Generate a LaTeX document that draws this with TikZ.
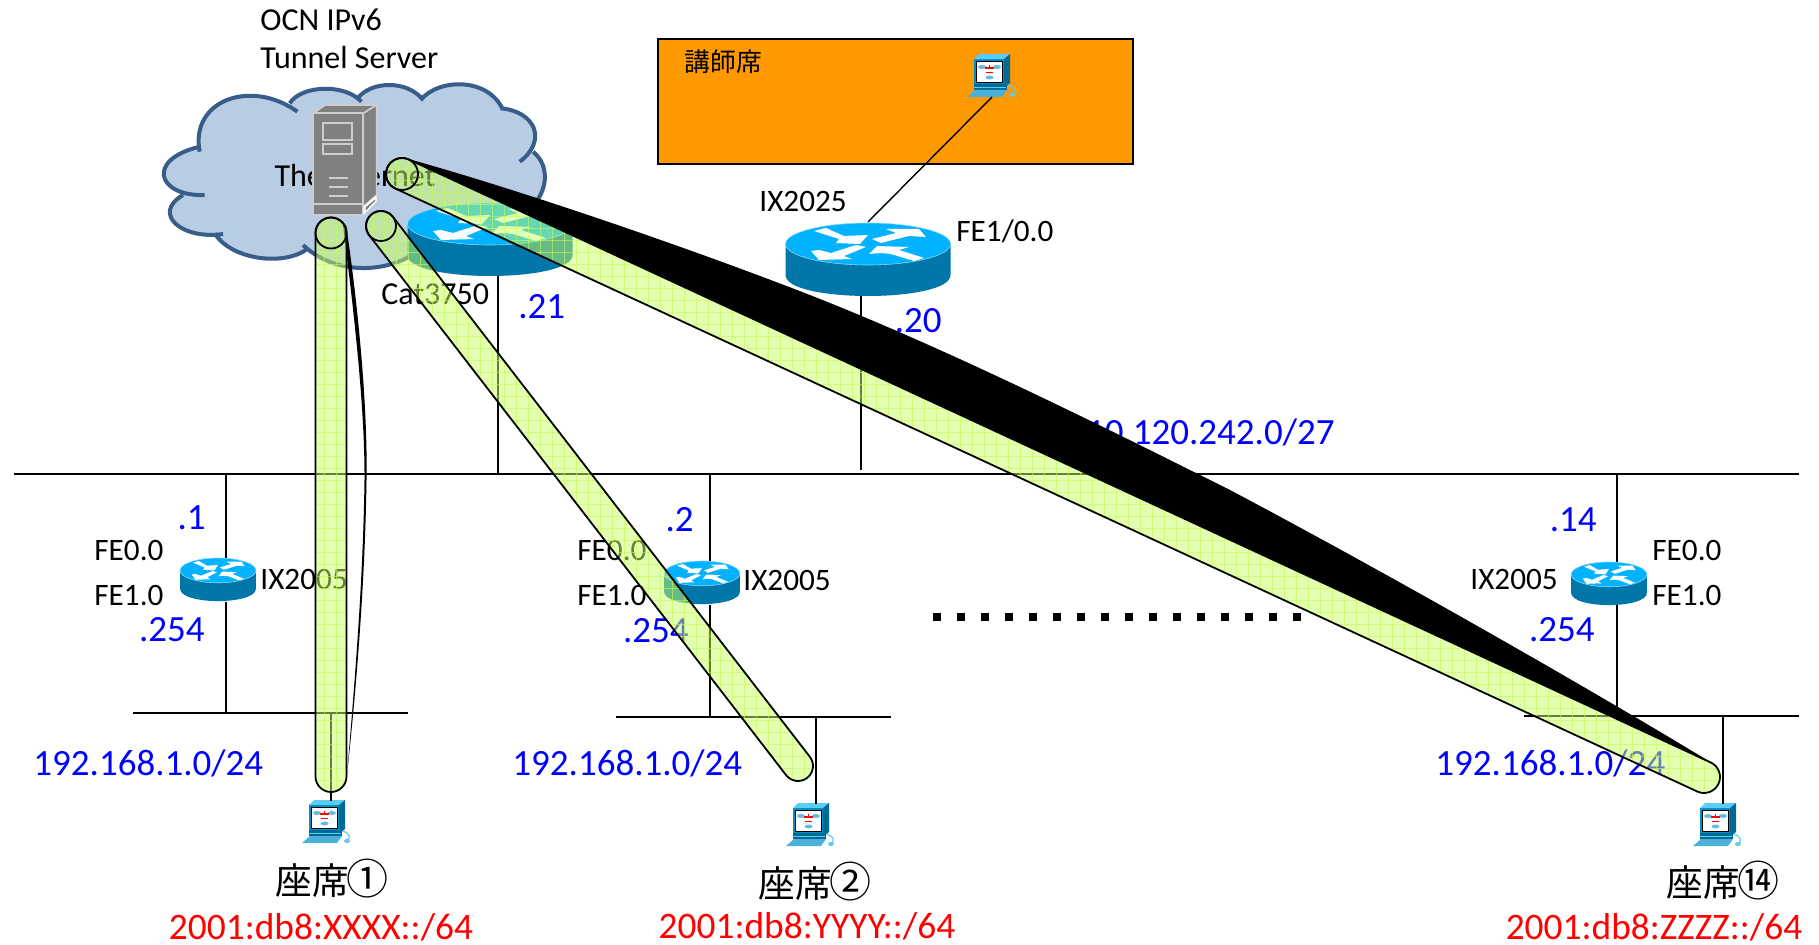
\documentclass[tikz,border=0pt]{standalone}
\usepackage{fontspec}
\setmainfont{Carlito}
\newfontfamily\cjk{Noto Sans CJK JP}
\usetikzlibrary{calc}
\definecolor{cloudfill}{RGB}{184,204,228}
\definecolor{cloudline}{RGB}{56,93,138}
\definecolor{rtop}{RGB}{0,178,255}
\definecolor{rbody}{RGB}{0,119,168}
\definecolor{redge}{RGB}{140,215,245}
\definecolor{boxfill}{RGB}{255,153,0}
\definecolor{tubefill}{RGB}{200,255,100}
\definecolor{tubegrid}{RGB}{200,250,90}
\definecolor{srv}{RGB}{128,128,128}
\definecolor{srvl}{RGB}{205,205,205}
\definecolor{pcblue}{RGB}{0,144,200}
\definecolor{pcdark}{RGB}{0,105,150}
\definecolor{pclight}{RGB}{90,205,245}
\tikzset{
  x=0.5pt,y=-0.5pt,
  lbl/.style={inner sep=0pt,font=\fontsize{15.6}{15.6}\selectfont,text=black},
  lblbig/.style={inner sep=0pt,font=\fontsize{16}{16}\selectfont,text=black},
  ip/.style={inner sep=0pt,font=\fontsize{18.5}{18.5}\selectfont,text=blue},
  seat/.style={inner sep=0pt,font=\cjk\fontsize{18.35}{18.35}\selectfont,text=black},
  pfx/.style={inner sep=0pt,font=\fontsize{18.7}{18.7}\selectfont,text=red},
  wire/.style={draw=black,line width=0.7pt},
  lan/.style={draw=black,line width=1.15pt},
  tubeedge/.style={draw=black,line width=0.9pt},
}
% router icon: name, centre of top ellipse, x scale, y scale
\newcommand\routericon[5]{%
  \coordinate (#1) at (#2,#3);
  \begin{scope}[shift={(#2,#3)},xscale=#4,yscale=#5]
    \fill[rbody] (-82.5,0) -- (-82.5,31) .. controls (-82.5,59) and (82.5,59) .. (82.5,31) -- (82.5,0) -- cycle;
    \fill[rtop,draw=redge,line width=0.3pt] (0,0) ellipse [x radius=82.5,y radius=21];
    \fill[white] (-54,-13) -- (-42,-16) -- (-24,-8) -- (0,-9) -- (-8,0) -- (-32,-1) -- (-29,-5) -- cycle;
    \fill[white] (4,-5) -- (13,-1) -- (41,-8) -- (58,-7) -- (51,-15) -- (18,-15) -- (28,-11) -- cycle;
    \fill[white] (-57,7) -- (-49,16) -- (-16,15) -- (-24,12) -- (-2,3) -- (-12,1) -- (-37,9) -- (-49,6) -- cycle;
    \fill[white] (1,10) -- (9,2) -- (41,3) -- (31,6) -- (56,14) -- (46,17) -- (23,10) -- (13,9) -- cycle;
  \end{scope}}
% PC icon: name, top-left corner
\newcommand\pcicon[3]{%
  \coordinate (#1) at (#2,#3);
  \begin{scope}[shift={(#2,#3)}]
    \fill[pclight] (7,5) -- (12,0) -- (43,0) -- (37,5) -- cycle;
    \fill[pcdark] (37,5) -- (43,0) -- (43,29) -- (37,34) -- cycle;
    \fill[pcblue] (7,5) rectangle (37,33);
    \fill[black] (9,7) rectangle (36,29);
    \fill[white] (10,8) rectangle (35,28);
    \fill[pcdark] (7,30) rectangle (40,36);
    \fill[pclight] (7,33) rectangle (39,34);
    \fill[pcblue!70!white] (0,43) -- (8,36) -- (40,36) -- (35,43) -- cycle;
    \fill[pcblue!60!white] (15,13) ellipse [x radius=4,y radius=2];
    \fill[pcblue!60!white] (30,13) ellipse [x radius=4,y radius=2];
    \fill[pcblue!60!white] (22.5,23.5) ellipse [x radius=4,y radius=2];
    \draw[red,line width=0.7pt] (19,18.5) -- (26,18.5) (22.5,11) -- (22.5,14) (18,14) -- (27,14);
    \draw[pclight,line width=0.6pt] (41,31) .. controls (47,33) and (49,37) .. (46,40);
    \fill[pclight] (45,41) ellipse [x radius=3,y radius=2];
  \end{scope}}
% tube geometry
\newcommand\tubegeom[3]{%
  \coordinate (#1L) at ($(#1)!#3!90:(#2)$);
  \coordinate (#1R) at ($(#1)!#3!-90:(#2)$);
  \coordinate (#2L) at ($(#2)!#3!-90:(#1)$);
  \coordinate (#2R) at ($(#2)!#3!90:(#1)$);
  \coordinate (#1T) at ($(#1)!-#3!(#2)$);
  \coordinate (#2T) at ($(#2)!-#3!(#1)$);}
\newcommand\tubepath[2]{(#1L) -- (#2L)
  .. controls ($(#2L)+.55*(#2T)-.55*(#2)$) and ($(#2T)+.55*(#2L)-.55*(#2)$) .. (#2T)
  .. controls ($(#2T)+.55*(#2R)-.55*(#2)$) and ($(#2R)+.55*(#2T)-.55*(#2)$) .. (#2R)
  -- (#1R)
  .. controls ($(#1R)+.55*(#1T)-.55*(#1)$) and ($(#1T)+.55*(#1R)-.55*(#1)$) .. (#1T)
  .. controls ($(#1T)+.55*(#1L)-.55*(#1)$) and ($(#1L)+.55*(#1T)-.55*(#1)$) .. (#1L) -- cycle}
\newcommand\tubedraw[3]{%
  \tubegeom{#1}{#2}{#3}
  \fill[tubefill,fill opacity=.5] \tubepath{#1}{#2};
  \begin{scope}
    \clip \tubepath{#1}{#2};
    \foreach \gx in {0,12,...,1824} \draw[tubegrid,line width=0.25pt,draw opacity=.6] (\gx,0) -- (\gx,945);
    \foreach \gy in {0,12,...,948} \draw[tubegrid,line width=0.25pt,draw opacity=.6] (0,\gy) -- (1819,\gy);
  \end{scope}
  \draw[tubeedge] \tubepath{#1}{#2};
  \draw[tubeedge] (#1) circle [radius=#3];}
\begin{document}
\begin{tikzpicture}
\useasboundingbox (0,0) rectangle (1819,945);
\fill[white] (0,0) rectangle (1819,945);

% instructor box
\node[draw=black,line width=0.8pt,fill=boxfill,minimum width=237.5pt,minimum height=62.5pt,inner sep=0pt,anchor=north west] (desk) at (657,38) {};
\node[inner sep=0pt,anchor=west,font=\cjk\fontsize{12.9}{12.9}\selectfont] (desklbl) at (684,62) {講師席};

% LAN lines
\coordinate (mainL) at (14,474); \coordinate (mainR) at (1799,474);
\draw[lan] (mainL) -- (mainR);
\coordinate (lan1L) at (133,713); \coordinate (lan1R) at (408,713);
\coordinate (lan2L) at (616,717); \coordinate (lan2R) at (891,717);
\coordinate (lan3L) at (1524,716); \coordinate (lan3R) at (1799,716);
\draw[lan,line width=1.4pt] (lan1L) -- (lan1R);
\draw[lan,line width=1.4pt] (lan2L) -- (lan2R);
\draw[lan,line width=1.4pt] (lan3L) -- (lan3R);

% cloud
\begin{scope}[shift={(138,0)},x=0.1667pt,y=-0.1667pt]
  \fill[cloudfill] (185,450) .. controls (155,300) and (340,235) .. (478,335)
    -- (455,310) .. controls (490,255) and (620,250) .. (670,305)
    -- (655,300) .. controls (695,240) and (810,240) .. (855,300)
    -- (848,300) .. controls (900,235) and (1050,230) .. (1095,330)
    -- (1090,325) .. controls (1190,335) and (1230,420) .. (1145,485)
    -- (1185,455) .. controls (1240,500) and (1225,580) .. (1180,620)
    -- (830,760) .. controls (740,820) and (590,825) .. (495,735)
    -- (510,745) .. controls (440,800) and (280,780) .. (230,700)
    -- (255,702) .. controls (130,720) and (40,640) .. (135,585)
    -- (200,585) .. controls (60,590) and (20,480) .. (185,440) -- cycle;
  \draw[cloudline,line width=2pt]
    (185,455) .. controls (155,300) and (340,235) .. (478,335)
    (455,310) .. controls (490,255) and (620,250) .. (670,305)
    (655,300) .. controls (695,240) and (810,240) .. (855,300)
    (848,300) .. controls (900,235) and (1050,230) .. (1095,330)
    (1090,325) .. controls (1190,335) and (1230,420) .. (1145,485)
    (1185,455) .. controls (1240,500) and (1225,580) .. (1180,620)
    (830,760) .. controls (740,820) and (590,825) .. (495,735)
    (510,745) .. controls (440,800) and (280,780) .. (230,700)
    (255,702) .. controls (130,720) and (40,640) .. (135,585)
    (200,585) .. controls (60,590) and (20,480) .. (185,440);
\end{scope}
\node[lblbig,anchor=center] (inet) at (355,176) {The Internet};

% labels above
\node[lblbig,anchor=west] (ocn1) at (260,20) {OCN IPv6};
\node[lblbig,anchor=west] (ocn2) at (260,58) {Tunnel Server};
\node[lblbig,anchor=west] (catl) at (381,294.5) {Cat3750};
\node[ip,anchor=west] (d21) at (518,307) {.21};
\node[lbl,anchor=west] (ix25) at (759,201.5) {IX2025};
\node[lbl,anchor=west] (fe10) at (956,231) {FE1/0.0};
\node[ip,anchor=east] (d20) at (942,321) {.20};
\node[ip,anchor=east] (net) at (1335,432) {10.120.242.0/27};

% routers
\coordinate (catTop) at (498,474); \coordinate (ixTop) at (861,470);
\draw[wire] (catTop) -- (498,270);
\draw[wire] (ixTop) -- (861,290);
\routericon{cat}{490}{224}{1}{1}
\routericon{ixc}{868}{244}{1}{1}
\routericon{r1}{218}{570.4}{0.46}{0.59}
\routericon{r2}{702}{573.4}{0.46}{0.59}
\routericon{r3}{1609}{574.4}{0.46}{0.59}

% server
\begin{scope}[shift={(300,100)},x=0.1667pt,y=-0.1667pt]
  \coordinate (server) at (120,180);
  \fill[srv,draw=srvl,line width=0.8pt] (40,40) -- (75,15) -- (230,15) -- (190,40) -- cycle;
  \fill[srv,draw=srvl,line width=0.8pt] (190,40) -- (230,15) -- (230,285) -- (190,320) -- cycle;
  \fill[srv,draw=srvl,line width=0.9pt] (40,40) rectangle (190,345);
  \fill[white] (190,320) -- (230,285) -- (230,305) -- (190,345) -- cycle;
  \fill[srv] (197,322) -- (225,298) -- (225,303) -- (197,332) -- cycle;
  \draw[srvl,line width=1pt] (40,312) -- (190,312);
  \draw[srvl,line width=0.9pt] (70,70) rectangle (155,120);
  \draw[srvl,line width=0.9pt] (70,133) rectangle (155,163);
  \draw[srvl,line width=1pt] (88,235) -- (145,235) (88,262) -- (145,262) (88,287) -- (145,287);
\end{scope}

% instructor PC and link
\pcicon{pc0}{967}{54}
\coordinate (pc0b) at (992,97); \coordinate (ixcT) at (868,222);
\draw[wire] (pc0b) -- (ixcT);

% seat routers' stubs
\coordinate (s1t) at (226,474); \coordinate (s1b) at (226,713);
\coordinate (s2t) at (710,474); \coordinate (s2b) at (710,717);
\coordinate (s3t) at (1617,474); \coordinate (s3b) at (1617,716);
\draw[wire] (s1t) -- (226,558) (226,602) -- (s1b);
\draw[wire] (s2t) -- (710,561) (710,605) -- (s2b);
\draw[wire] (s3t) -- (1617,562) (1617,605) -- (s3b);
% PCs
\coordinate (p1t) at (331,713); \coordinate (p2t) at (816,717); \coordinate (p3t) at (1723,716);
\pcicon{pc1}{302}{800}
\pcicon{pc2}{786}{803}
\pcicon{pc3}{1693}{803}
\draw[wire,line width=1.1pt] (p1t) -- (331,801);
\draw[wire,line width=1.1pt] (p2t) -- (816,804);
\draw[wire,line width=1.1pt] (p3t) -- (1723,804);

% seat labels
\node[ip,anchor=east] (a1) at (206,518) {.1};
\node[lbl,anchor=west] (f01) at (94,551) {FE0.0};
\node[lbl,anchor=west] (f11) at (94,595.5) {FE1.0};
\node[ip,anchor=east] (b1) at (205,630) {.254};
\node[lbl,anchor=west] (ix1) at (260,579) {IX2005};
\node[ip,anchor=west] (n1) at (33,763) {192.168.1.0/24};
\node[seat] (st1) at (332,878.5) {座席\hspace{-1pt}{\fontsize{21}{21}\selectfont ①}\hspace{-1.6pt}};
\node[pfx] (pf1) at (321,927) {2001:db8:XXXX::/64};

\node[ip,anchor=east] (a2) at (694,520) {.2};
\node[lbl,anchor=west] (f02) at (577,551) {FE0.0};
\node[lbl,anchor=west] (f12) at (577,595.5) {FE1.0};
\node[ip,anchor=east] (b2) at (689,631) {.254};
\node[lbl,anchor=west] (ix2) at (743,580) {IX2005};
\node[ip,anchor=west] (n2) at (512,763) {192.168.1.0/24};
\node[seat] (st2) at (815,881.5) {座席\hspace{-1pt}{\fontsize{21}{21}\selectfont ②}\hspace{-1.6pt}};
\node[pfx] (pf2) at (807,926.5) {2001:db8:YYYY::/64};

\node[ip,anchor=east] (a3) at (1597,520) {.14};
\node[lbl,anchor=west] (f03) at (1652,551) {FE0.0};
\node[lbl,anchor=west] (f13) at (1652,595.5) {FE1.0};
\node[ip,anchor=east] (b3) at (1595,630) {.254};
\node[lbl,anchor=west] (ix3) at (1470,579) {IX2005};
\node[ip,anchor=west] (n3) at (1435,763) {192.168.1.0/24};
\node[seat] (st3) at (1723,880.5) {座席\hspace{-1pt}{\fontsize{21}{21}\selectfont ⑭}\hspace{-1.6pt}};
\node[pfx] (pf3) at (1654,927) {2001:db8:ZZZZ::/64};

% dots
\foreach \i in {0,...,15} \fill[black] ({937+24*\i-4},613) rectangle ({937+24*\i+4},621);

% tunnels
\coordinate (t1s) at (331,233); \coordinate (t1e) at (331,776.5);
\coordinate (t2s) at (381,226); \coordinate (t2e) at (798,766);
\coordinate (t3s) at (402,174); \coordinate (t3e) at (1704,777);

% black swelling of the tunnels
\fill[black] (346,225) .. controls (356,290) and (368,400) .. (366.5,480)
  .. controls (365,590) and (355,700) .. (347,775)
  .. controls (353,700) and (363,590) .. (364.5,480)
  .. controls (365,400) and (351,290) .. (343,225) -- cycle;
\fill[black] (405,158) .. controls (520,190) and (680,245) .. (797,290)
  .. controls (940,345) and (1100,425) .. (1230,490)
  .. controls (1400,580) and (1600,695) .. (1712,763) -- cycle;

\tubedraw{t1s}{t1e}{7.75pt}
\tubedraw{t2s}{t2e}{7.5pt}
\tubedraw{t3s}{t3e}{8pt}
\end{tikzpicture}
\end{document}
